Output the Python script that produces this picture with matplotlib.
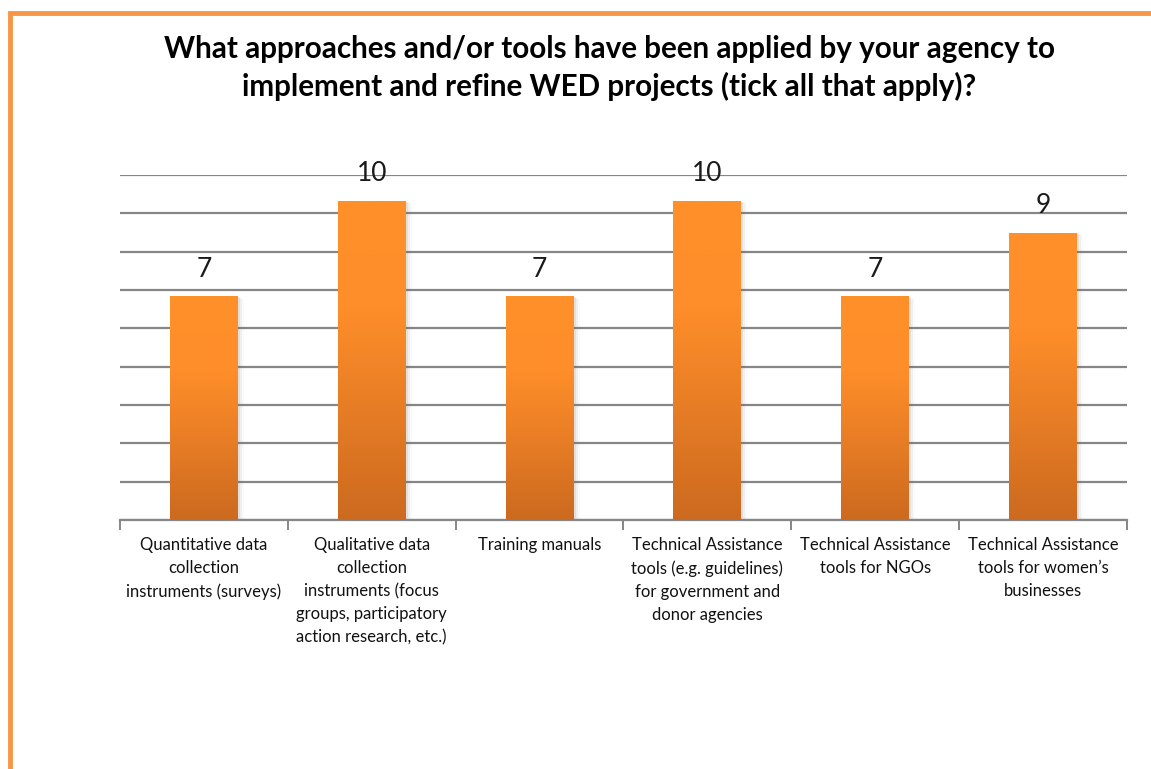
import numpy as np
import matplotlib.pyplot as plt
from matplotlib.colors import LinearSegmentedColormap
from matplotlib.patches import Rectangle

categories = [
    "Quantitative data\ncollection\ninstruments (surveys)",
    "Qualitative data\ncollection\ninstruments (focus\ngroups, participatory\naction research, etc.)",
    "Training manuals",
    "Technical Assistance\ntools (e.g. guidelines)\nfor government and\ndonor agencies",
    "Technical Assistance\ntools for NGOs",
    "Technical Assistance\ntools for women\u2019s\nbusinesses",
]
counts = [7, 10, 7, 10, 7, 9]

title = ("What approaches and/or tools have been applied by your agency to\n"
         "implement and refine WED projects (tick all that apply)?")

plt.rcParams['font.family'] = ['Lato', 'DejaVu Sans']

W, H = 1151, 769
fig = plt.figure(figsize=(W / 100, H / 100), dpi=100)
ax = fig.add_axes([120 / W, 1 - 520 / H, (1127 - 120) / W, (520 - 175) / H])

x = np.arange(len(categories))
bar_w = 0.405
grad = LinearSegmentedColormap.from_list('og', ['#CC6A1F', '#E67C25', '#FE8E29', '#FF9029'])
img = np.linspace(0, 1, 256).reshape(-1, 1)

ax.set_xlim(-0.5, len(categories) - 0.5)
ax.set_ylim(0, 10.8)

for xi, v in zip(x, counts):
    # soft shadow
    for k, a in enumerate([0.10, 0.06, 0.03]):
        d = 0.012 * (k + 1)
        ax.add_patch(Rectangle((xi - bar_w / 2 + d, -0.03 * (k + 1)), bar_w, v,
                               facecolor='#606060', alpha=a, edgecolor='none', zorder=2))
    bar = ax.bar(xi, v, width=bar_w, color='none', zorder=3)[0]
    im = ax.imshow(img, cmap=grad, origin='lower', aspect='auto',
                   extent=[xi - bar_w / 2, xi + bar_w / 2, 0, v], zorder=3)
    im.set_clip_path(bar)
    ax.text(xi, v + 0.85, str(v), ha='center', va='center', fontsize=19, color='#1a1a1a', zorder=5)

ax.set_xlim(-0.5, len(categories) - 0.5)
ax.set_ylim(0, 10.8)

ax.set_yticks(np.arange(0, 10.81, 1.2))
ax.yaxis.grid(True, color='#868686', linewidth=1.6, zorder=1)
ax.set_axisbelow(True)
ax.tick_params(axis='y', left=False, labelleft=False)

ax.set_xticks(np.arange(-0.5, len(categories)), minor=False)
ax.set_xticklabels([])
ax.set_xticks(x, minor=True)
ax.set_xticklabels(categories, minor=True, fontsize=12, linespacing=1.55, va='top',
                   color='#111111')
ax.tick_params(axis='x', which='major', length=7, width=1.4, color='#868686', direction='out')
ax.tick_params(axis='x', which='minor', length=0, pad=12)

for s in ['top', 'right', 'left']:
    ax.spines[s].set_visible(False)
ax.spines['bottom'].set_color('#868686')
ax.spines['bottom'].set_linewidth(1.6)

fig.text(609 / W, 1 - 68 / H, title, ha='center', va='center', fontsize=21.3,
         fontweight='bold', linespacing=1.4, color='black')

# orange frame (left and top edges)
fig.add_artist(Rectangle((10 / W, -0.5), 2, 1.5 - 12.5 / H, transform=fig.transFigure,
                         facecolor='none', edgecolor='#F79646', linewidth=3.5))

fig.savefig('out.png', dpi=100)
